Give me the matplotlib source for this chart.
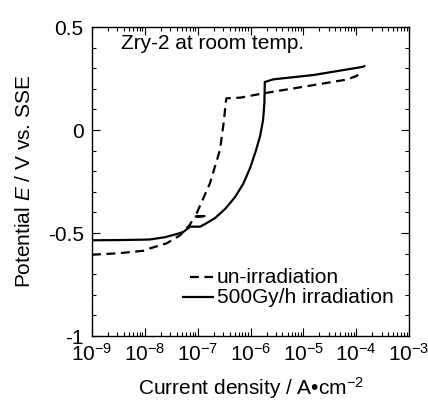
import numpy as np
import matplotlib.pyplot as plt
from matplotlib.ticker import MultipleLocator, LogLocator, FixedLocator

plt.rcParams['font.family'] = ['Liberation Sans', 'DejaVu Sans']
plt.rcParams['mathtext.fontset'] = 'custom'
plt.rcParams['mathtext.rm'] = 'Liberation Sans'
plt.rcParams['mathtext.it'] = 'Liberation Sans:italic'
plt.rcParams['axes.unicode_minus'] = False

# un-irradiation (dashed): log10 current density, potential (V vs. SSE)
unirr_logi = [-9.0, -8.5, -8.03, -7.9, -7.59, -7.33, -7.15, -7.06, -6.82, -7.06,
              -7.02, -6.77, -6.58, -6.51, -6.46, -6.2, -5.76, -5.57,
              -4.81, -4.18, -4.0, -3.88]
unirr_E = [-0.605, -0.598, -0.586, -0.574, -0.55, -0.51, -0.46, -0.42, -0.417, -0.42,
           -0.404, -0.259, -0.097, 0.034, 0.154, 0.157, 0.178, 0.186,
           0.218, 0.245, 0.262, 0.285]

# 500Gy/h irradiation (solid)
irr_logi = [-9.0, -8.5, -8.03, -7.902, -7.618, -7.334, -7.27, -7.145, -6.956,
            -6.861, -6.672, -6.482, -6.293, -6.142, -6.009, -5.896, -5.820,
            -5.764, -5.739, -5.731, -5.57, -4.81, -3.87, -3.85]
irr_E = [-0.535, -0.534, -0.532, -0.531, -0.520, -0.500, -0.494, -0.469, -0.469,
         -0.456, -0.427, -0.383, -0.325, -0.262, -0.184, -0.097, -0.029,
         0.048, 0.131, 0.233, 0.246, 0.267, 0.307, 0.31]

unirr_i = 10.0 ** np.array(unirr_logi)
irr_i = 10.0 ** np.array(irr_logi)

fig = plt.figure(figsize=(4.28, 4.03), dpi=100)
ax = fig.add_axes([0.215, 0.166, 0.741, 0.767])

ax.plot(unirr_i, unirr_E, color='black', lw=1.6, ls=(0, (4, 2.5)))
ax.plot(irr_i, irr_E, color='black', lw=1.6)

ax.set_xscale('log')
ax.set_xlim(1e-9, 1e-3)
ax.set_ylim(-1, 0.5)
ax.xaxis.set_major_locator(LogLocator(base=10, numticks=10))
ax.xaxis.set_minor_locator(LogLocator(base=10, subs=np.arange(2, 10), numticks=10))
ax.yaxis.set_major_locator(FixedLocator([-1, -0.5, 0, 0.5]))
ax.set_yticklabels(['-1', '-0.5', '0', '0.5'])
ax.yaxis.set_minor_locator(MultipleLocator(0.1))
ax.tick_params(which='both', direction='in', top=True, right=True, labelsize=15)
ax.tick_params(axis='x', pad=5)
ax.tick_params(axis='y', pad=6)
ax.tick_params(which='major', length=6, width=0.8)
ax.tick_params(which='minor', length=3, width=0.8)
for s in ax.spines.values():
    s.set_linewidth(1.0)

ax.set_xlabel('Current density / A\u2022cm$^{-2}$', fontsize=15, labelpad=7)
ax.set_ylabel('Potential $E$ / V vs. SSE', fontsize=15, labelpad=10)

ax.text(0.091, 0.948, 'Zry-2 at room temp.', transform=ax.transAxes,
        fontsize=15, va='center', ha='left')

# legend
ax.plot([0.309, 0.382], [0.191, 0.191], transform=ax.transAxes, color='black',
        lw=1.6, ls=(0, (4, 2.5)))
ax.plot([0.287, 0.382], [0.126, 0.126], transform=ax.transAxes, color='black', lw=1.6)
ax.text(0.394, 0.191, 'un-irradiation', transform=ax.transAxes, fontsize=15, va='center')
ax.text(0.394, 0.126, '500Gy/h irradiation', transform=ax.transAxes, fontsize=15, va='center')

fig.savefig('out.png', dpi=100)
